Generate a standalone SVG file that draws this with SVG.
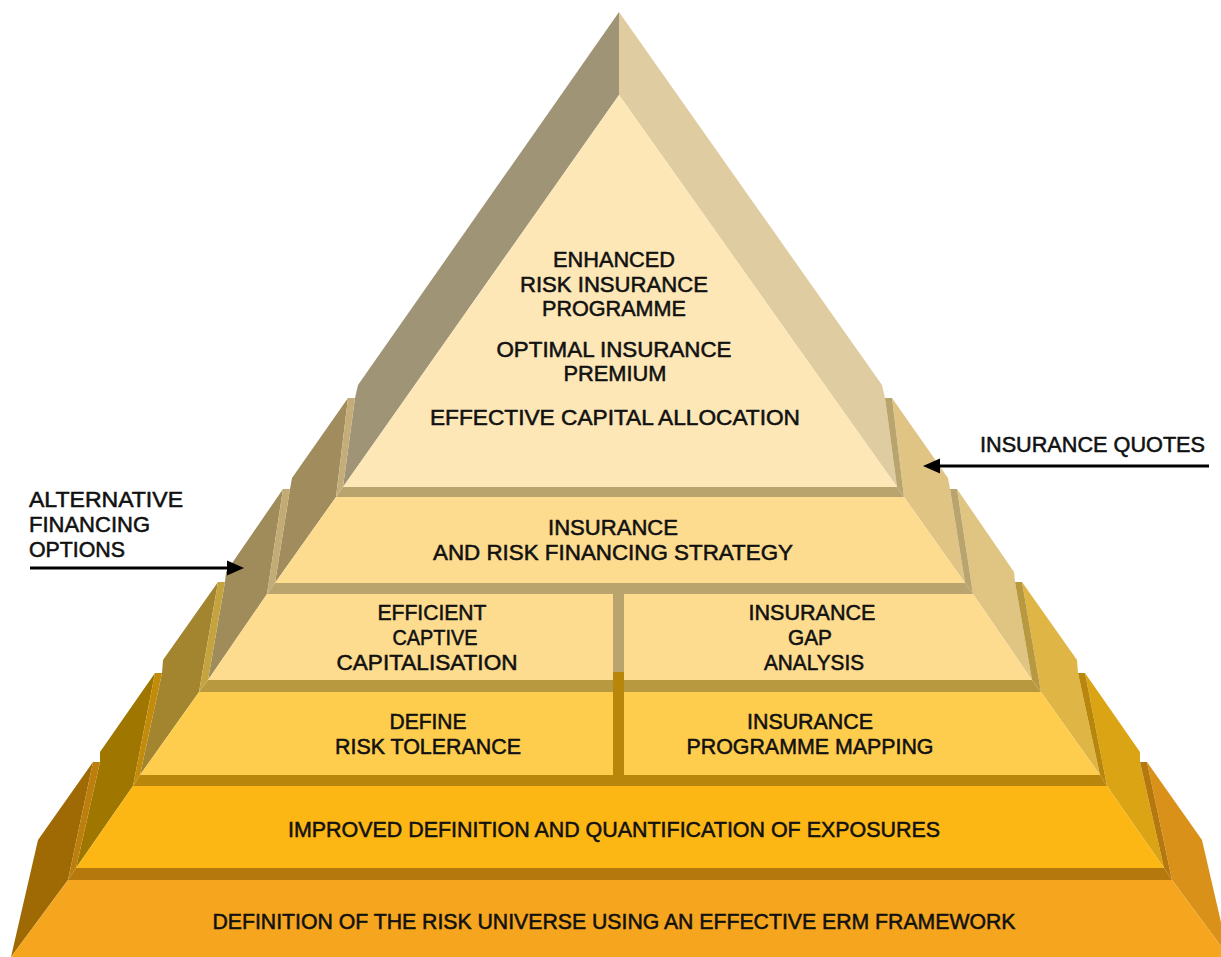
<svg xmlns="http://www.w3.org/2000/svg" width="1221" height="957" viewBox="0 0 1221 957">
<style>
text{font-family:"Liberation Sans",Arial,sans-serif;font-size:22px;fill:#111;stroke:#111;stroke-width:0.55px;}
.c{text-anchor:middle;}
.arrow{stroke:#000;stroke-width:3;fill:none;}
</style>
<defs>
<marker id="ah" markerUnits="userSpaceOnUse" markerWidth="18" markerHeight="16" refX="9" refY="8" orient="auto">
<path d="M0,0.5 L17,8 L0,15.5 Z" fill="#000"/>
</marker>
</defs>
<rect width="1221" height="957" fill="#fff"/>

<g id="tier1">
<polygon points="619,12 358,385 355,398 343,487 619,95" fill="#a09476"/>
<polygon points="619,12 882,385 885,398 897,487 619,95" fill="#dfcca1"/>
<polygon points="619,95 343,487 897,487" fill="#fde7b7"/>
<text class="c" x="614" y="267" textLength="122" lengthAdjust="spacingAndGlyphs">ENHANCED</text>
<text class="c" x="614" y="292" textLength="188" lengthAdjust="spacingAndGlyphs">RISK INSURANCE</text>
<text class="c" x="614" y="316" textLength="144" lengthAdjust="spacingAndGlyphs">PROGRAMME</text>
<text class="c" x="614" y="357" textLength="235" lengthAdjust="spacingAndGlyphs">OPTIMAL INSURANCE</text>
<text class="c" x="615" y="381" textLength="103" lengthAdjust="spacingAndGlyphs">PREMIUM</text>
<text class="c" x="615" y="425" textLength="370" lengthAdjust="spacingAndGlyphs">EFFECTIVE CAPITAL ALLOCATION</text>
</g>

<g id="tier2">
<polygon points="348,398 292,478 290,489 275,583 336,497" fill="#a08c5c"/>
<polygon points="892,398 948,478 950,489 965,583 904,497" fill="#dfc483"/>
<polygon points="348,398 355,398 343,487 336,497" fill="#c4ad78"/>
<polygon points="892,398 885,398 897,487 904,497" fill="#b9a46e"/>
<polygon points="343,487 897,487 904,497 336,497" fill="#b9a46e"/>
<polygon points="336,497 904,497 965,583 275,583" fill="#fddc8f"/>
<text class="c" x="613" y="535" textLength="130" lengthAdjust="spacingAndGlyphs">INSURANCE</text>
<text class="c" x="613" y="560" textLength="360" lengthAdjust="spacingAndGlyphs">AND RISK FINANCING STRATEGY</text>
</g>

<g id="tier3">
<polygon points="283,489 226,572 225,582 208,680 267,594" fill="#a08c5a"/>
<polygon points="957,489 1014,572 1015,582 1032,680 973,594" fill="#dfc482"/>
<polygon points="283,489 290,489 275,583 267,594" fill="#c2ab74"/>
<polygon points="957,489 950,489 965,583 973,594" fill="#b9a46e"/>
<polygon points="275,583 965,583 973,594 267,594" fill="#b9a46e"/>
<polygon points="267,594 973,594 1032,680 208,680" fill="#fddc8f"/>
</g>

<g id="tier4">
<polygon points="218,582 163,660 162,673 140,775 199,692" fill="#a3852f"/>
<polygon points="1022,582 1077,660 1078,673 1100,775 1041,692" fill="#dfb545"/>
<polygon points="218,582 225,582 208,680 199,692" fill="#c5a43f"/>
<polygon points="1022,582 1015,582 1032,680 1041,692" fill="#b8993f"/>
<polygon points="208,680 1032,680 1041,692 199,692" fill="#b8993f"/>
<polygon points="199,692 1041,692 1100,775 140,775" fill="#fecd4e"/>
</g>

<g id="tier5">
<polygon points="155,673 100,752 100,762 76,868 133,786" fill="#9f7700"/>
<polygon points="1085,673 1140,752 1140,762 1164,868 1107,786" fill="#dba414"/>
<polygon points="155,673 162,673 140,775 133,786" fill="#c38b0a"/>
<polygon points="1085,673 1078,673 1100,775 1107,786" fill="#b8860b"/>
<polygon points="140,775 1100,775 1107,786 133,786" fill="#b8860b"/>
<polygon points="133,786 1107,786 1164,868 76,868" fill="#fcb715"/>
<text class="c" x="614" y="837" textLength="652" lengthAdjust="spacingAndGlyphs">IMPROVED DEFINITION AND QUANTIFICATION OF EXPOSURES</text>
</g>

<g id="tier6">
<polygon points="93,762 38,840 11,957 68,880" fill="#9f6a04"/>
<polygon points="1147,762 1202,840 1229,957 1172,880" fill="#d9911a"/>
<polygon points="93,762 100,762 76,868 68,880" fill="#bc7e0c"/>
<polygon points="1147,762 1140,762 1164,868 1172,880" fill="#b5780d"/>
<polygon points="76,868 1164,868 1172,880 68,880" fill="#b5780d"/>
<polygon points="68,880 1172,880 1229,957 11,957" fill="#f6a61e"/>
<text class="c" x="614" y="929" textLength="803" lengthAdjust="spacingAndGlyphs">DEFINITION OF THE RISK UNIVERSE USING AN EFFECTIVE ERM FRAMEWORK</text>
</g>

<g id="divider">
<rect x="613" y="594" width="11" height="78" fill="#b9a46e"/>
<rect x="613" y="672" width="11" height="103" fill="#b8860b"/>
</g>

<g id="tier3-left">
<text class="c" x="432" y="620" textLength="109" lengthAdjust="spacingAndGlyphs">EFFICIENT</text>
<text class="c" x="435" y="645" textLength="85" lengthAdjust="spacingAndGlyphs">CAPTIVE</text>
<text class="c" x="427" y="670" textLength="181" lengthAdjust="spacingAndGlyphs">CAPITALISATION</text>
</g>
<g id="tier3-right">
<text class="c" x="812" y="620" textLength="127" lengthAdjust="spacingAndGlyphs">INSURANCE</text>
<text class="c" x="810" y="645" textLength="44" lengthAdjust="spacingAndGlyphs">GAP</text>
<text class="c" x="814" y="670" textLength="100" lengthAdjust="spacingAndGlyphs">ANALYSIS</text>
</g>
<g id="tier4-left">
<text class="c" x="428" y="729" textLength="77" lengthAdjust="spacingAndGlyphs">DEFINE</text>
<text class="c" x="428" y="754" textLength="186" lengthAdjust="spacingAndGlyphs">RISK TOLERANCE</text>
</g>
<g id="tier4-right">
<text class="c" x="810" y="729" textLength="126" lengthAdjust="spacingAndGlyphs">INSURANCE</text>
<text class="c" x="810" y="754" textLength="247" lengthAdjust="spacingAndGlyphs">PROGRAMME MAPPING</text>
</g>

<g id="label-quotes">
<text x="1205" y="452" text-anchor="end" textLength="225" lengthAdjust="spacingAndGlyphs">INSURANCE QUOTES</text>
</g>
<g id="label-alt">
<text x="29" y="507" textLength="154" lengthAdjust="spacingAndGlyphs">ALTERNATIVE</text>
<text x="29" y="532" textLength="121" lengthAdjust="spacingAndGlyphs">FINANCING</text>
<text x="29" y="557" textLength="96" lengthAdjust="spacingAndGlyphs">OPTIONS</text>
</g>

<g id="connectors">
<line class="arrow" x1="1209" y1="466" x2="931" y2="466" marker-end="url(#ah)"/>
<line class="arrow" x1="30" y1="568" x2="236" y2="568" marker-end="url(#ah)"/>
</g>
</svg>
